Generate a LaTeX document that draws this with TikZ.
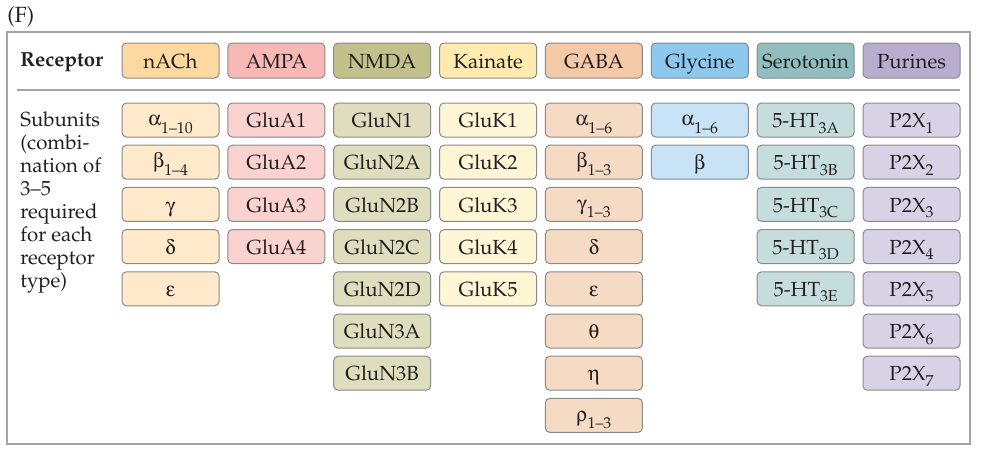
\documentclass[tikz,border=0pt]{standalone}
\usepackage[T1]{fontenc}
\usepackage{mathpazo}
\usepackage{amsmath}
\usepackage[Symbol]{upgreek}
\usepackage{tikz}
\usetikzlibrary{positioning}

\definecolor{inkdark}{HTML}{231F20}
\definecolor{framegray}{HTML}{A3A5A8}
\definecolor{boxline}{HTML}{8A8A8A}
\definecolor{achhead}{HTML}{FDD9A1}
\definecolor{achsub}{HTML}{FEEACB}
\definecolor{ampahead}{HTML}{F8B9B4}
\definecolor{ampasub}{HTML}{FAD3D0}
\definecolor{nmdahead}{HTML}{C1C18C}
\definecolor{nmdasub}{HTML}{DEDEBF}
\definecolor{kaihead}{HTML}{FFEBB0}
\definecolor{kaisub}{HTML}{FFF6D6}
\definecolor{gabahead}{HTML}{F3C9A8}
\definecolor{gabasub}{HTML}{F6DBC4}
\definecolor{glyhead}{HTML}{8DC8EE}
\definecolor{glysub}{HTML}{C7E3F5}
\definecolor{serohead}{HTML}{93BEC0}
\definecolor{serosub}{HTML}{C6DDDE}
\definecolor{purhead}{HTML}{B9ADCF}
\definecolor{pursub}{HTML}{D9D1E5}

% lowered index in the cells
\newcommand{\lowidx}[1]{\raisebox{-2.7pt}{\fontsize{7.9}{8}\selectfont #1}}
\newcommand{\grk}[1]{\raisebox{1pt}{$#1$}}

\begin{document}
\begin{tikzpicture}[
			      x=0.5pt, y=-0.5pt,
			      node distance=4.1pt,
			      every node/.style={font=\fontsize{10.2}{12}\selectfont, text=inkdark},
			      cell/.style={
					      draw=boxline,
					      line width=0.5pt,
					      rounded corners=2.2pt,
					      align=center,
					      inner sep=0pt,
					      outer sep=0pt,
					      minimum width=48.5pt,
					      minimum height=17pt,
					      text height=9pt,
					      text depth=1.3pt
				      },
			      head/.style={cell, minimum height=17.5pt}
		      ]
		      \useasboundingbox (0,0) rectangle (992,451);
		      \node[anchor=base west, inner sep=0pt, font=\fontsize{11}{13}\selectfont] (title) at (7,22) {(F)};
		      \draw[framegray, line width=0.6pt] (7,32) rectangle (970,444);
		      \draw[framegray, line width=0.6pt] (17,90) -- (960,90);

		      % receptor row
		      \node[anchor=base west, inner sep=0pt, font=\fontsize{10.2}{12}\selectfont\bfseries] (reclabel) at (20,66.5) {Receptor};
		      \node[head, fill=achhead] (nach) at (170.5,60.5) {nACh};
		      \node[head, fill=ampahead] (ampa) at (276.4,60.5) {AMPA};
		      \node[head, fill=nmdahead] (nmda) at (382.2,60.5) {NMDA};
		      \node[head, fill=kaihead] (kain) at (488.1,60.5) {Kainate};
		      \node[head, fill=gabahead] (gaba) at (593.9,60.5) {GABA};
		      \node[head, fill=glyhead] (gly) at (699.8,60.5) {Glycine};
		      \node[head, fill=serohead] (sero) at (805.6,60.5) {Serotonin};
		      \node[head, fill=purhead] (pur) at (911.5,60.5) {Purines};

		      % subunits
		      \node[anchor=north west, inner sep=0pt, align=left, font=\fontsize{10.2}{11.5}\selectfont] (sublabel) at (20,111)
		      {Subunits\\(combi-\\nation of\\3--5\\required\\for each\\receptor\\type)};

		      \node[cell, fill=achsub, below=12.5pt of nach] (nach1) {\grk{\upalpha}\lowidx{1--10}};
		      \node[cell, fill=achsub, below=of nach1] (nach2) {\grk{\upbeta}\lowidx{1--4}};
		      \node[cell, fill=achsub, below=of nach2] (nach3) {$\upgamma$};
		      \node[cell, fill=achsub, below=of nach3] (nach4) {$\updelta$};
		      \node[cell, fill=achsub, below=of nach4] (nach5) {$\upepsilon$};

		      \node[cell, fill=ampasub, below=12.5pt of ampa] (ampa1) {GluA1};
		      \node[cell, fill=ampasub, below=of ampa1] (ampa2) {GluA2};
		      \node[cell, fill=ampasub, below=of ampa2] (ampa3) {GluA3};
		      \node[cell, fill=ampasub, below=of ampa3] (ampa4) {GluA4};

		      \node[cell, fill=nmdasub, below=12.5pt of nmda] (nmda1) {GluN1};
		      \node[cell, fill=nmdasub, below=of nmda1] (nmda2) {GluN2A};
		      \node[cell, fill=nmdasub, below=of nmda2] (nmda3) {GluN2B};
		      \node[cell, fill=nmdasub, below=of nmda3] (nmda4) {GluN2C};
		      \node[cell, fill=nmdasub, below=of nmda4] (nmda5) {GluN2D};
		      \node[cell, fill=nmdasub, below=of nmda5] (nmda6) {GluN3A};
		      \node[cell, fill=nmdasub, below=of nmda6] (nmda7) {GluN3B};

		      \node[cell, fill=kaisub, below=12.5pt of kain] (kain1) {GluK1};
		      \node[cell, fill=kaisub, below=of kain1] (kain2) {GluK2};
		      \node[cell, fill=kaisub, below=of kain2] (kain3) {GluK3};
		      \node[cell, fill=kaisub, below=of kain3] (kain4) {GluK4};
		      \node[cell, fill=kaisub, below=of kain4] (kain5) {GluK5};

		      \node[cell, fill=gabasub, below=12.5pt of gaba] (gaba1) {\grk{\upalpha}\lowidx{1--6}};
		      \node[cell, fill=gabasub, below=of gaba1] (gaba2) {\grk{\upbeta}\lowidx{1--3}};
		      \node[cell, fill=gabasub, below=of gaba2] (gaba3) {\grk{\upgamma}\lowidx{1--3}};
		      \node[cell, fill=gabasub, below=of gaba3] (gaba4) {$\updelta$};
		      \node[cell, fill=gabasub, below=of gaba4] (gaba5) {$\upepsilon$};
		      \node[cell, fill=gabasub, below=of gaba5] (gaba6) {$\uptheta$};
		      \node[cell, fill=gabasub, below=of gaba6] (gaba7) {$\upeta$};
		      \node[cell, fill=gabasub, below=of gaba7] (gaba8) {\grk{\uprho}\lowidx{1--3}};

		      \node[cell, fill=glysub, below=12.5pt of gly] (gly1) {\grk{\upalpha}\lowidx{1--6}};
		      \node[cell, fill=glysub, below=of gly1] (gly2) {$\upbeta$};

		      \node[cell, fill=serosub, below=12.5pt of sero] (sero1) {5-HT\lowidx{3A}};
		      \node[cell, fill=serosub, below=of sero1] (sero2) {5-HT\lowidx{3B}};
		      \node[cell, fill=serosub, below=of sero2] (sero3) {5-HT\lowidx{3C}};
		      \node[cell, fill=serosub, below=of sero3] (sero4) {5-HT\lowidx{3D}};
		      \node[cell, fill=serosub, below=of sero4] (sero5) {5-HT\lowidx{3E}};

		      \node[cell, fill=pursub, below=12.5pt of pur] (pur1) {P2X\lowidx{1}};
		      \node[cell, fill=pursub, below=of pur1] (pur2) {P2X\lowidx{2}};
		      \node[cell, fill=pursub, below=of pur2] (pur3) {P2X\lowidx{3}};
		      \node[cell, fill=pursub, below=of pur3] (pur4) {P2X\lowidx{4}};
		      \node[cell, fill=pursub, below=of pur4] (pur5) {P2X\lowidx{5}};
		      \node[cell, fill=pursub, below=of pur5] (pur6) {P2X\lowidx{6}};
		      \node[cell, fill=pursub, below=of pur6] (pur7) {P2X\lowidx{7}};
	      \end{tikzpicture}
\end{document}
